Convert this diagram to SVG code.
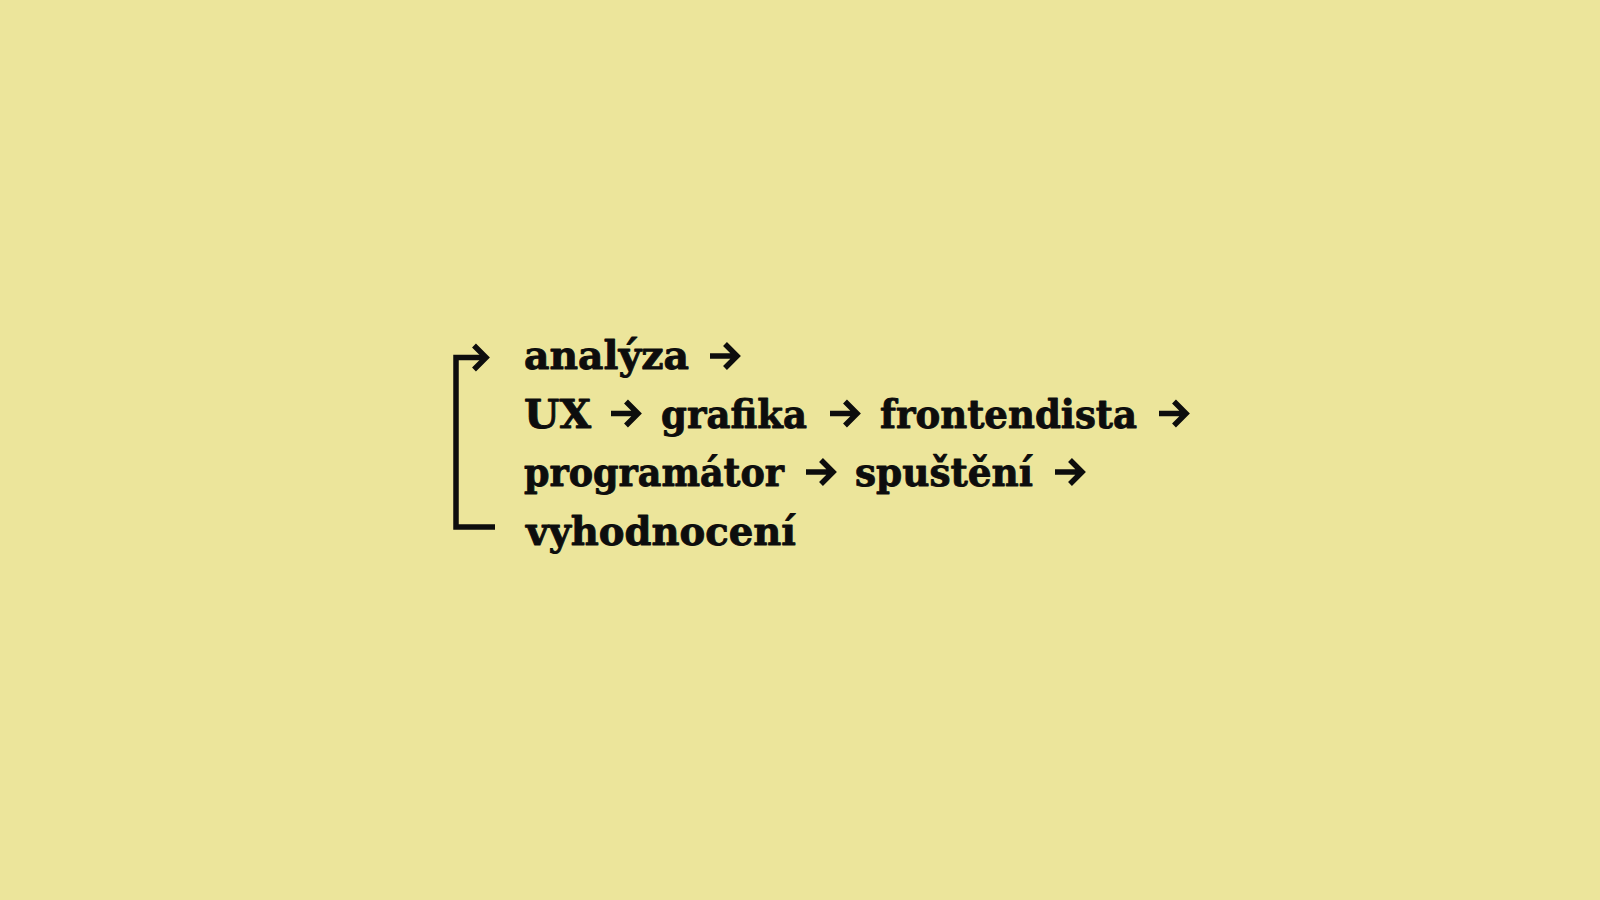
<svg xmlns="http://www.w3.org/2000/svg" width="1600" height="900" viewBox="0 0 1600 900">
  <defs>
    <style>
      .t { font-family: "DejaVu Serif", "Liberation Serif", serif; font-weight: bold; font-size: 39px; fill: #0d0d0d; stroke: #0d0d0d; stroke-width: 0.9; stroke-linejoin: round; }
      .ln { fill: none; stroke: #0d0d0d; stroke-width: 5.5; stroke-linejoin: miter; stroke-linecap: butt; }
    </style>
    <g id="arr">
      <path class="ln" d="M0 0 H27 M15 -12 L27 0 L15 12"/>
    </g>
  </defs>
  <rect width="1600" height="900" fill="#ece59b"/>

  <g id="connectors">
    <path class="ln" d="M495 527 H456 V357.5 H486"/>
    <path class="ln" d="M474 345.5 L486 357.5 L474 369.5"/>
    <use href="#arr" x="710" y="356"/>
    <use href="#arr" x="611" y="413.5"/>
    <use href="#arr" x="830" y="413.5"/>
    <use href="#arr" x="1159" y="413.5"/>
    <use href="#arr" x="806" y="472"/>
    <use href="#arr" x="1055" y="472"/>
  </g>

  <g id="node-analyza"><text class="t" x="524" y="369" textLength="165" lengthAdjust="spacingAndGlyphs">analýza</text></g>
  <g id="node-ux"><text class="t" x="524" y="428" textLength="67" lengthAdjust="spacingAndGlyphs">UX</text></g>
  <g id="node-grafika"><text class="t" x="661" y="428" textLength="146" lengthAdjust="spacingAndGlyphs">grafika</text></g>
  <g id="node-frontendista"><text class="t" x="880" y="428" textLength="257" lengthAdjust="spacingAndGlyphs">frontendista</text></g>
  <g id="node-programator"><text class="t" x="524" y="486" textLength="260" lengthAdjust="spacingAndGlyphs">programátor</text></g>
  <g id="node-spusteni"><text class="t" x="855" y="486" textLength="178" lengthAdjust="spacingAndGlyphs">spuštění</text></g>
  <g id="node-vyhodnoceni"><text class="t" x="526" y="544.5" textLength="270" lengthAdjust="spacingAndGlyphs">vyhodnocení</text></g>
</svg>
